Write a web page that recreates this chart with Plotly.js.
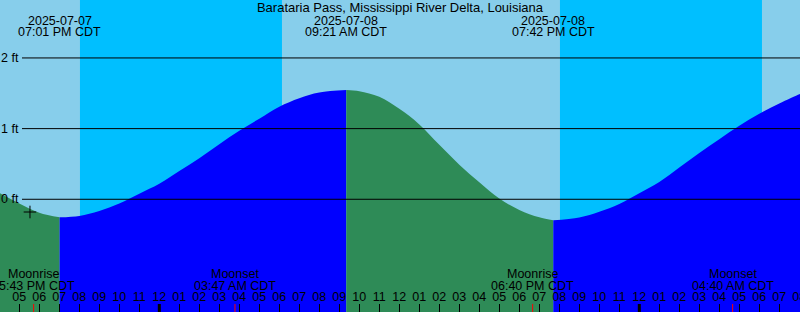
<!DOCTYPE html>
<html>
<head>
<meta charset="utf-8">
<script src="https://cdn.plot.ly/plotly-3.0.1.min.js"></script>
<style>html,body{margin:0;padding:0;background:#87CEEB;}#chart{width:800px;height:312px;}</style>
</head>
<body>
<div id="chart"></div>
<script>
// ---- data ----
const chartTitle = 'Barataria Pass, Mississippi River Delta, Louisiana';

const tideTimes = [
  '2025-07-07 16:00','2025-07-07 17:00','2025-07-07 18:00','2025-07-07 19:01',
  '2025-07-07 20:00','2025-07-07 21:00','2025-07-07 22:00','2025-07-07 23:00',
  '2025-07-08 00:00','2025-07-08 01:00','2025-07-08 02:00','2025-07-08 03:00',
  '2025-07-08 04:00','2025-07-08 05:00','2025-07-08 06:00','2025-07-08 07:00',
  '2025-07-08 08:00','2025-07-08 09:21','2025-07-08 10:00','2025-07-08 11:00',
  '2025-07-08 12:00','2025-07-08 13:00','2025-07-08 14:00','2025-07-08 15:00',
  '2025-07-08 16:00','2025-07-08 17:00','2025-07-08 18:00','2025-07-08 19:00',
  '2025-07-08 19:42','2025-07-08 21:00','2025-07-08 22:00','2025-07-08 23:00',
  '2025-07-09 00:00','2025-07-09 01:00','2025-07-09 02:00','2025-07-09 03:00',
  '2025-07-09 04:00','2025-07-09 05:00','2025-07-09 06:00','2025-07-09 07:00',
  '2025-07-09 08:00','2025-07-09 08:03'
];
const tideFeet = [
  0.09, -0.06, -0.19, -0.255,
  -0.235, -0.165, -0.06, 0.08,
  0.22, 0.40, 0.58, 0.78,
  0.97, 1.14, 1.31, 1.43,
  1.51, 1.545, 1.53, 1.45,
  1.28, 1.06, 0.77, 0.49,
  0.24, 0.01, -0.15, -0.255,
  -0.296, -0.256, -0.175, -0.066,
  0.085, 0.245, 0.45, 0.655,
  0.85, 1.04, 1.21, 1.355,
  1.485, 1.49
];

const extremaTimes = ['2025-07-07 19:01','2025-07-08 09:21','2025-07-08 19:42'];
const extremaDates = ['2025-07-07','2025-07-08','2025-07-08'];
const extremaClock = ['07:01 PM CDT','09:21 AM CDT','07:42 PM CDT'];

const nightStarts = ['2025-07-07 20:02','2025-07-08 20:02'];
const nightEnds   = ['2025-07-08 06:08','2025-07-09 06:08'];

const moonNames = ['Moonrise','Moonset','Moonrise','Moonset'];
const moonTimes = ['2025-07-07 17:43','2025-07-08 03:47','2025-07-08 18:40','2025-07-09 04:40'];
const moonClock = ['05:43 PM CDT','03:47 AM CDT','06:40 PM CDT','04:40 AM CDT'];

const midnights = ['2025-07-08 00:00','2025-07-09 00:00'];
const depthLevels = [0, 1, 2];
const depthLabels = ['0 ft', '1 ft', '2 ft'];

const markTimes = ['2025-07-07 17:32'];
const markFeet = [-0.18];

// ---- styling ----
const FONT = 'Liberation Sans, Arial, sans-serif';
const DAY = '#87CEEB', NIGHT = '#00BFFF', FALL = '#2E8B57', RISE = '#0000FF';
const Y_MIN = -1.595, Y_MAX = 2.82;
const X_RANGE = ['2025-07-07 16:02:06', '2025-07-09 08:02:06'];
const H = 312;
const py = p => 1 - p / H;

// ---- tide fill segments, split at each high/low ----
const cuts = [0].concat(extremaTimes.map(t => tideTimes.indexOf(t)), [tideTimes.length - 1]);
const traces = [];
for (let s = 0; s < cuts.length - 1; s++) {
  const xs = tideTimes.slice(cuts[s], cuts[s + 1] + 1);
  const ys = tideFeet.slice(cuts[s], cuts[s + 1] + 1);
  const falling = ys[ys.length - 1] < ys[0];
  traces.push({x: xs, y: xs.map(() => Y_MIN), mode: 'lines', line: {width: 0},
    hoverinfo: 'skip', showlegend: false});
  traces.push({x: xs, y: ys, mode: 'lines', fill: 'tonexty',
    fillcolor: falling ? FALL : RISE,
    line: {width: 0, shape: 'spline', smoothing: 1}, hoverinfo: 'skip', showlegend: false});
}
traces.push({x: markTimes, y: markFeet, mode: 'markers', showlegend: false, hoverinfo: 'skip',
  marker: {symbol: 'cross-thin', size: 9, line: {width: 1, color: 'black'}, color: 'black'}});

// ---- shapes ----
const shapes = [];
nightStarts.forEach((t, i) => shapes.push({type: 'rect', xref: 'x', yref: 'paper',
  x0: t, x1: nightEnds[i], y0: 0, y1: 1, fillcolor: NIGHT, line: {width: 0}, layer: 'below'}));
depthLevels.forEach(v => shapes.push({type: 'line', xref: 'paper', yref: 'y',
  x0: 22 / 800, x1: 1, y0: v, y1: v, line: {color: 'black', width: 1}, layer: 'above'}));
midnights.forEach(t => shapes.push({type: 'line', xref: 'x', yref: 'paper',
  x0: t, x1: t, y0: 0, y1: 8 / H, line: {color: 'black', width: 3}, layer: 'above'}));
moonTimes.forEach(t => shapes.push({type: 'line', xref: 'x', yref: 'paper',
  x0: t, x1: t, y0: 0, y1: 8 / H, line: {color: 'red', width: 1}, layer: 'above'}));

// ---- annotations ----
const ann = [];
const txt = (x, xref, y, text, extra) => Object.assign({x: x, xref: xref, y: y, yref: 'paper',
  text: text, showarrow: false, xanchor: 'center', yanchor: 'middle', borderpad: 0,
  font: {family: FONT, size: 12.5, color: 'black'}}, extra || {});
extremaTimes.forEach((t, i) => {
  ann.push(txt(t, 'x', py(21), extremaDates[i]));
  ann.push(txt(t, 'x', py(32.5), extremaClock[i]));
});
moonTimes.forEach((t, i) => {
  ann.push(txt(t, 'x', py(273.5), moonNames[i]));
  ann.push(txt(t, 'x', py(286), moonClock[i]));
});
depthLevels.forEach((v, i) => ann.push({x: 20 / 800, xref: 'paper', y: v, yref: 'y',
  text: depthLabels[i], showarrow: false, xanchor: 'right', yanchor: 'middle', borderpad: 0,
  font: {family: FONT, size: 12.5, color: 'black'}}));

const layout = {
  width: 800, height: 312, autosize: false,
  margin: {l: 0, r: 0, t: 0, b: 0, pad: 0},
  paper_bgcolor: DAY, plot_bgcolor: DAY,
  title: {text: chartTitle, font: {family: FONT, size: 13, color: 'black'},
    x: 0.5, xanchor: 'center', xref: 'paper', y: py(7.8), yanchor: 'middle', yref: 'container'},
  xaxis: {type: 'date', range: X_RANGE, showgrid: false, zeroline: false, showline: false,
    ticks: 'inside', ticklen: 8, tickwidth: 1, tickcolor: 'black',
    tick0: '2025-07-07 00:00', dtick: 3600000, tickformat: '%I',
    ticklabelposition: 'inside', ticklabeloverflow: 'allow',
    tickfont: {family: FONT, size: 12.5, color: 'black'}, layer: 'above traces', fixedrange: true},
  yaxis: {range: [Y_MIN, Y_MAX], visible: false, fixedrange: true},
  shapes: shapes,
  annotations: ann,
  showlegend: false
};

Plotly.newPlot('chart', traces, layout, {staticPlot: true, displayModeBar: false});
</script>
</body>
</html>
